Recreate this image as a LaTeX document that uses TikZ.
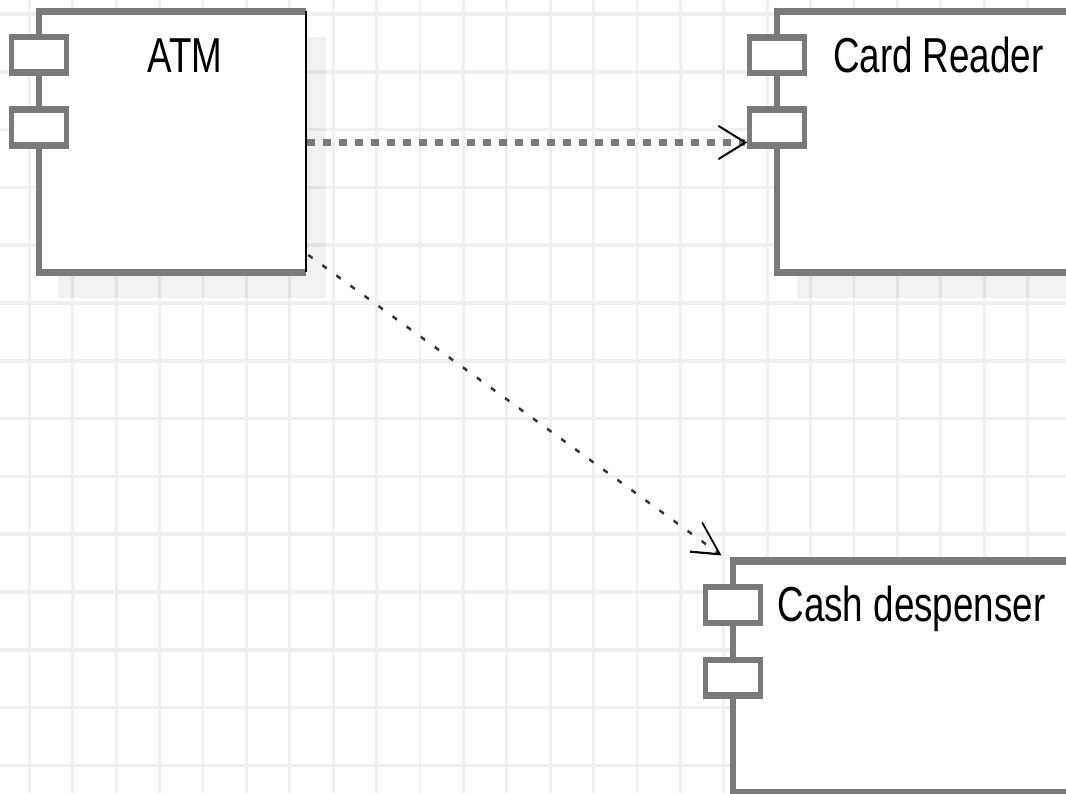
\documentclass[tikz,border=0pt]{standalone}
\usepackage{fontspec}
\setmainfont{Liberation Sans}
\usetikzlibrary{arrows.meta,shadows}

\definecolor{edgegray}{gray}{0.48}
\definecolor{gridgray}{gray}{0.94}

\begin{document}
\begin{tikzpicture}[
  gridline/.style={draw=gridgray, line width=2.8pt},
  compbox/.style={rectangle, fill=white, inner sep=0pt, outer sep=0pt, anchor=north west,
    drop shadow={shadow xshift=19.5pt, shadow yshift=-19pt, fill=black, opacity=0.055}},
  boxedge/.style={draw=edgegray, line width=5.4pt},
  port/.style={rectangle, draw=edgegray, line width=5pt, fill=white,
    minimum width=54.5pt, minimum height=26.8pt, inner sep=0pt, outer sep=0pt},
  lbl/.style={inner sep=0pt, outer sep=0pt, font=\fontsize{36.8}{40}\selectfont, text=black},
  dep/.style={-{Straight Barb[length=27pt, width=25pt, line width=1.6pt, color=black]}},
]
% page frame
\useasboundingbox (0,0) rectangle (1066pt,-793pt);
\clip (0,0) rectangle (1066pt,-793pt);
\fill[white] (0,0) rectangle (1066pt,-793pt);

\begin{scope}[x=1pt, y=-0.75pt, transform canvas={yscale=4/3}]
  % background grid
  \foreach \i in {0,...,23}
    \draw[gridline] ({29.3+43.4*\i}, 0) -- ({29.3+43.4*\i}, 793);
  \foreach \j in {0,...,13}
    \draw[gridline] (0, {14+57.8*\j}) -- (1066, {14+57.8*\j});

  % component bodies
  \node[compbox, minimum width=267.2pt, minimum height=195.75pt] (atm) at (38.8, 11.3) {};
  \draw[boxedge] (atm.north east) -- (atm.north west) -- (atm.south west) -- (atm.south east);
  \draw[black, line width=2pt] (atm.north east) -- (atm.south east);

  \node[compbox, boxedge, minimum width=600pt, minimum height=195.75pt] (cr) at (777, 11.7) {};
  \node[compbox, boxedge, minimum width=600pt, minimum height=173.6pt] (cd) at (733, 561) {};

  % component ports
  \node[port] (atm-p1) at (38.8, 54.9) {};
  \node[port] (atm-p2) at (38.8, 127.4) {};
  \node[port] (cr-p1) at (777, 55.2) {};
  \node[port] (cr-p2) at (777, 127.6) {};
  \node[port] (cd-p1) at (733, 605) {};
  \node[port] (cd-p2) at (733, 677.8) {};

  % names
  \node[lbl, anchor=base] (atm-name) at (185, 72.7) {ATM};
  \node[lbl, anchor=base west] (cr-name) at (833, 72.7) {Card Reader};
  \node[lbl, anchor=base west] (cd-name) at (777.5, 621.7) {Cash despenser};

  % dependencies
  \coordinate (d1s) at (306.7, 142.5);
  \draw[dep, dash pattern=on 8pt off 8pt, draw=edgegray, line width=5.3pt, shorten >=2.5pt]
    (d1s) -- (cr-p2.west |- d1s);

  \coordinate (d2s) at (308.3, 255);
  \coordinate (d2e) at (721.5, 555.5);
  \draw[dep, dash pattern=on 5pt off 11pt, draw=black!80, line width=2pt] (d2s) -- (d2e);
\end{scope}
\end{tikzpicture}
\end{document}
